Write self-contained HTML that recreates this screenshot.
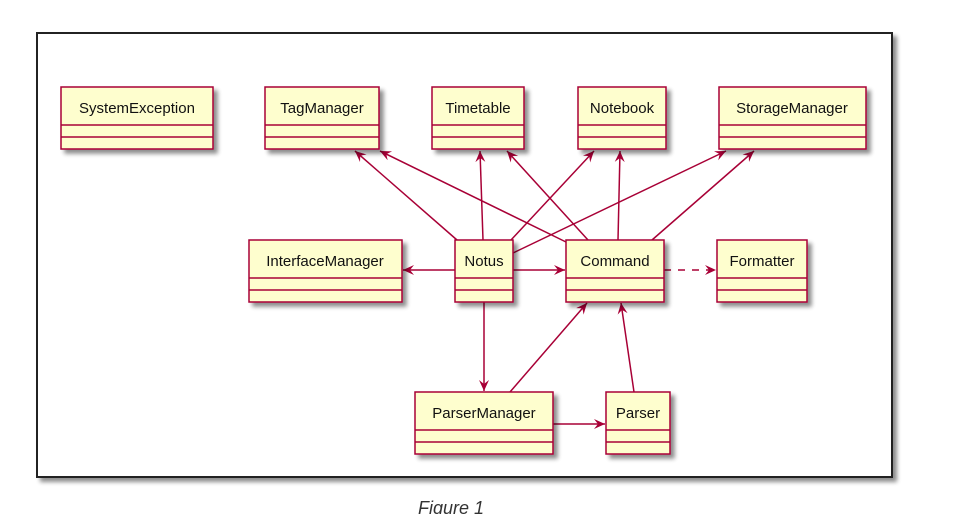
<!DOCTYPE html>
<html><head><meta charset="utf-8"><style>
html,body{margin:0;padding:0;background:#fff;width:955px;height:514px;overflow:hidden}
svg{display:block}
text{font-family:"Liberation Sans",sans-serif;font-size:15px;fill:#111}
</style></head><body>
<svg width="955" height="514" viewBox="0 0 955 514" xmlns="http://www.w3.org/2000/svg">
<defs>
<filter id="sh" x="-20%" y="-20%" width="150%" height="160%">
<feGaussianBlur in="SourceAlpha" stdDeviation="2"/>
<feOffset dx="4" dy="4"/>
<feComponentTransfer><feFuncA type="linear" slope="0.45"/></feComponentTransfer>
<feMerge><feMergeNode/><feMergeNode in="SourceGraphic"/></feMerge>
</filter>
<marker id="ar" markerUnits="userSpaceOnUse" markerWidth="14" markerHeight="12" refX="11" refY="5" orient="auto">
<path d="M0,0 L11,5 L0,10 L4,5 z" fill="#A80036"/>
</marker>
</defs>
<rect x="37" y="33" width="855" height="444" fill="#fff" stroke="#222" stroke-width="2" filter="url(#sh)"/>
<g stroke="#A80036" stroke-width="1.5" fill="none" marker-end="url(#ar)">
<line x1="457" y1="240" x2="355" y2="151"/>
<line x1="566" y1="242" x2="380" y2="151"/>
<line x1="483" y1="240" x2="480" y2="151"/>
<line x1="588" y1="240" x2="507" y2="151"/>
<line x1="511" y1="240" x2="594" y2="151"/>
<line x1="618" y1="240" x2="620" y2="151"/>
<line x1="513" y1="253" x2="726" y2="151"/>
<line x1="652" y1="240" x2="754" y2="151"/>
<line x1="455" y1="270" x2="403" y2="270"/>
<line x1="513" y1="270" x2="565" y2="270"/>
<line x1="664" y1="270" x2="716" y2="270" stroke-dasharray="7,7"/>
<line x1="484" y1="302" x2="484" y2="391"/>
<line x1="510" y1="392" x2="587" y2="303"/>
<line x1="634" y1="392" x2="621" y2="303"/>
<line x1="553" y1="424" x2="605" y2="424"/>
</g>
<g fill="#FEFECE" stroke="#A80036" stroke-width="1.5">
<g filter="url(#sh)">
<rect x="61" y="87" width="152" height="62"/>
<rect x="265" y="87" width="114" height="62"/>
<rect x="432" y="87" width="92" height="62"/>
<rect x="578" y="87" width="88" height="62"/>
<rect x="719" y="87" width="147" height="62"/>
<rect x="249" y="240" width="153" height="62"/>
<rect x="455" y="240" width="58" height="62"/>
<rect x="566" y="240" width="98" height="62"/>
<rect x="717" y="240" width="90" height="62"/>
<rect x="415" y="392" width="138" height="62"/>
<rect x="606" y="392" width="64" height="62"/>
</g>
</g>
<g stroke="#A80036" stroke-width="1.5">
<path d="M61 125H213M61 137H213M265 125H379M265 137H379M432 125H524M432 137H524M578 125H666M578 137H666M719 125H866M719 137H866"/>
<path d="M249 278H402M249 290H402M455 278H513M455 290H513M566 278H664M566 290H664M717 278H807M717 290H807"/>
<path d="M415 430H553M415 442H553M606 430H670M606 442H670"/>
</g>
<text x="137" y="113" text-anchor="middle">SystemException</text>
<text x="322" y="113" text-anchor="middle">TagManager</text>
<text x="478" y="113" text-anchor="middle">Timetable</text>
<text x="622" y="113" text-anchor="middle">Notebook</text>
<text x="792" y="113" text-anchor="middle">StorageManager</text>
<text x="325" y="266" text-anchor="middle">InterfaceManager</text>
<text x="484" y="266" text-anchor="middle">Notus</text>
<text x="615" y="266" text-anchor="middle">Command</text>
<text x="762" y="266" text-anchor="middle">Formatter</text>
<text x="484" y="418" text-anchor="middle">ParserManager</text>
<text x="638" y="418" text-anchor="middle">Parser</text>
<text x="418" y="514" style="font-size:18px;font-style:italic;fill:#333">Figure 1</text>
</svg>
</body></html>
